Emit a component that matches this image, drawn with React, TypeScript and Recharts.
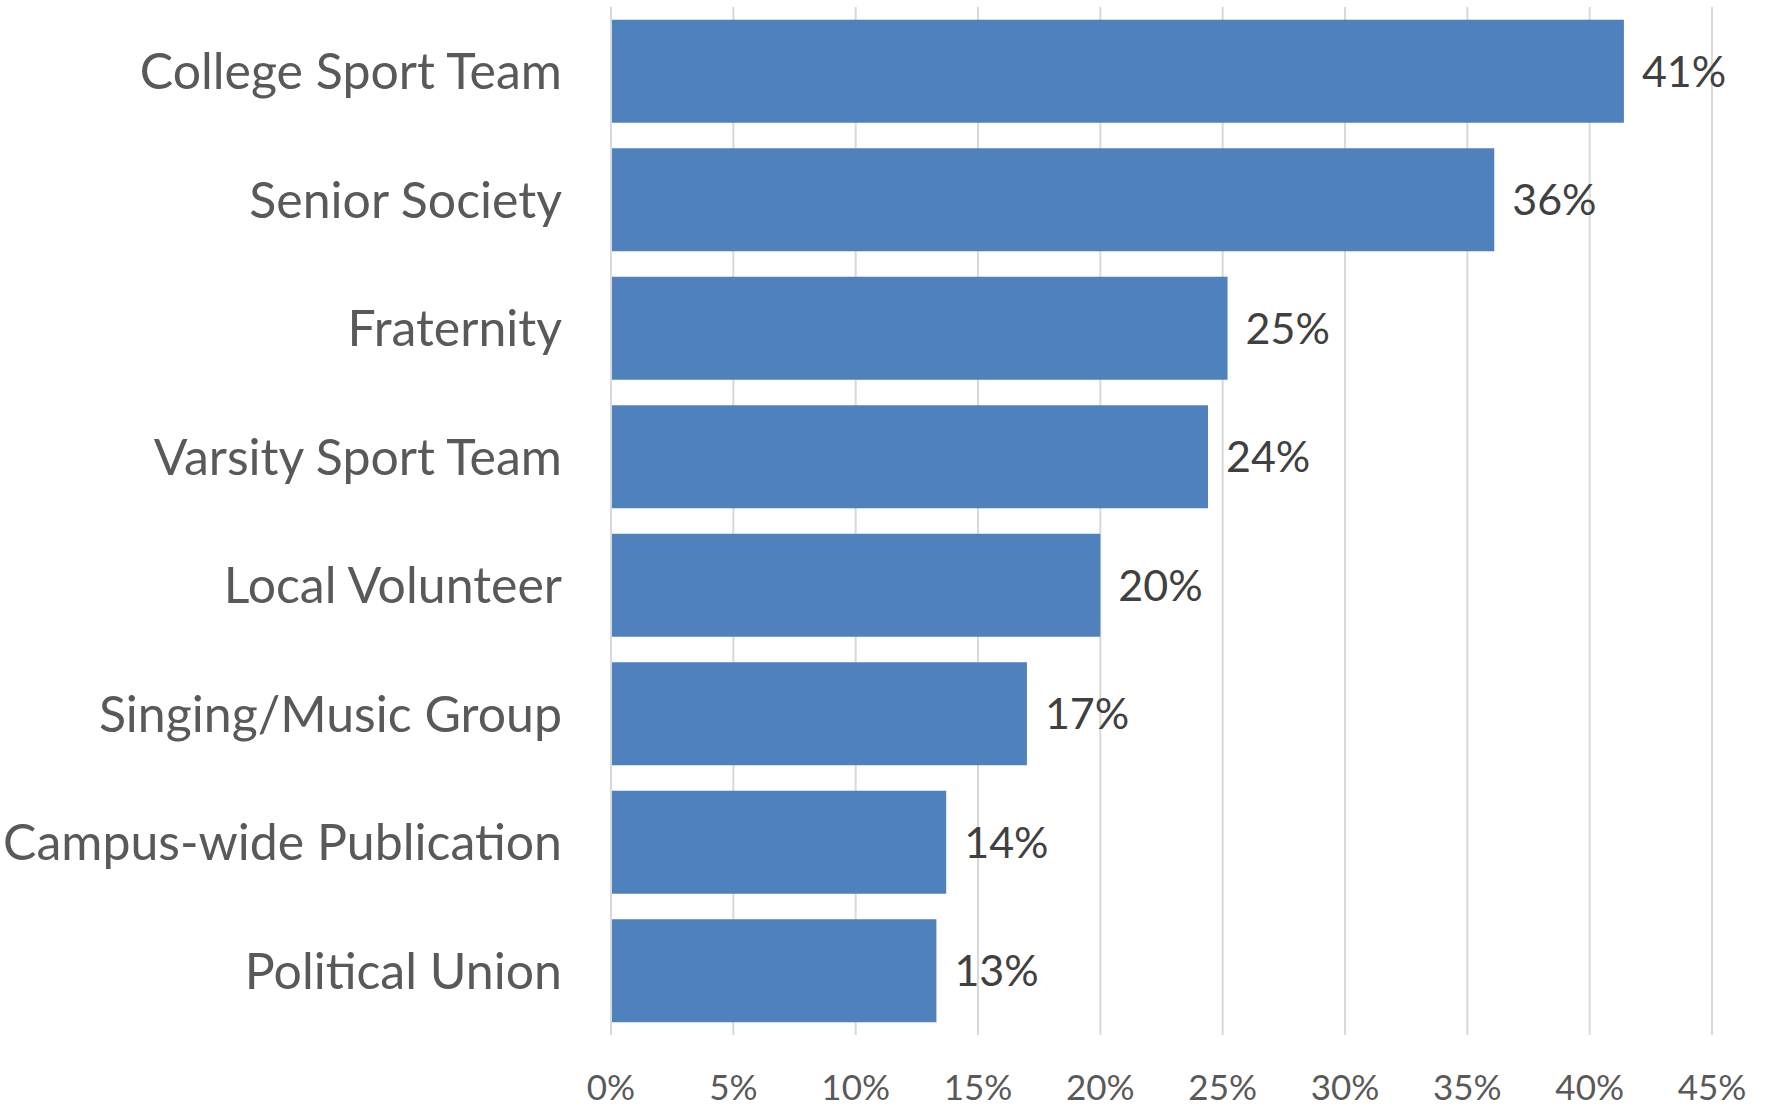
import React from 'react';
import { BarChart, Bar, XAxis, YAxis, CartesianGrid, LabelList } from 'recharts';

const categories = [
  'College Sport Team',
  'Senior Society',
  'Fraternity',
  'Varsity Sport Team',
  'Local Volunteer',
  'Singing/Music Group',
  'Campus-wide Publication',
  'Political Union',
];

// share of respondents, in percent
const shares = [41.4, 36.1, 25.2, 24.4, 20.0, 17.0, 13.7, 13.3];

const percentTicks = [0, 5, 10, 15, 20, 25, 30, 35, 40, 45];

const FONT = 'Lato, "Open Sans", sans-serif';

const App: React.FC = () => {
  const data = categories.map((name, i) => ({ name, share: shares[i] }));

  return (
    <div style={{ position: 'absolute', left: 0, top: 0, background: '#fff', fontFamily: FONT }}>
      <BarChart
        layout="vertical"
        width={1768}
        height={1107}
        data={data}
        margin={{ top: 7, right: 56, left: 0, bottom: 0 }}
        barCategoryGap="10%"
      >
        <CartesianGrid horizontal={false} stroke="#d9d9d9" strokeWidth={2} />
        <XAxis
          type="number"
          domain={[0, 45]}
          ticks={percentTicks}
          tickFormatter={(v: number) => `${v}%`}
          axisLine={false}
          tickLine={false}
          height={72}
          tickMargin={34}
          tick={{ fill: '#595959', fontSize: 35, fontFamily: FONT }}
          interval={0}
        />
        <YAxis
          type="category"
          dataKey="name"
          width={611}
          axisLine={{ stroke: '#d9d9d9', strokeWidth: 2 }}
          tickLine={false}
          tickMargin={43}
          tick={{ fill: '#595959', fontSize: 50, fontFamily: FONT }}
          interval={0}
        />
        <Bar dataKey="share" fill="#4f81bd" isAnimationActive={false}>
          <LabelList
            dataKey="share"
            position="right"
            offset={18}
            formatter={(v: any) => `${Math.round(Number(v))}%`}
            style={{ fill: '#404040', fontSize: 43, fontFamily: FONT }}
          />
        </Bar>
      </BarChart>
    </div>
  );
};

export default App;
